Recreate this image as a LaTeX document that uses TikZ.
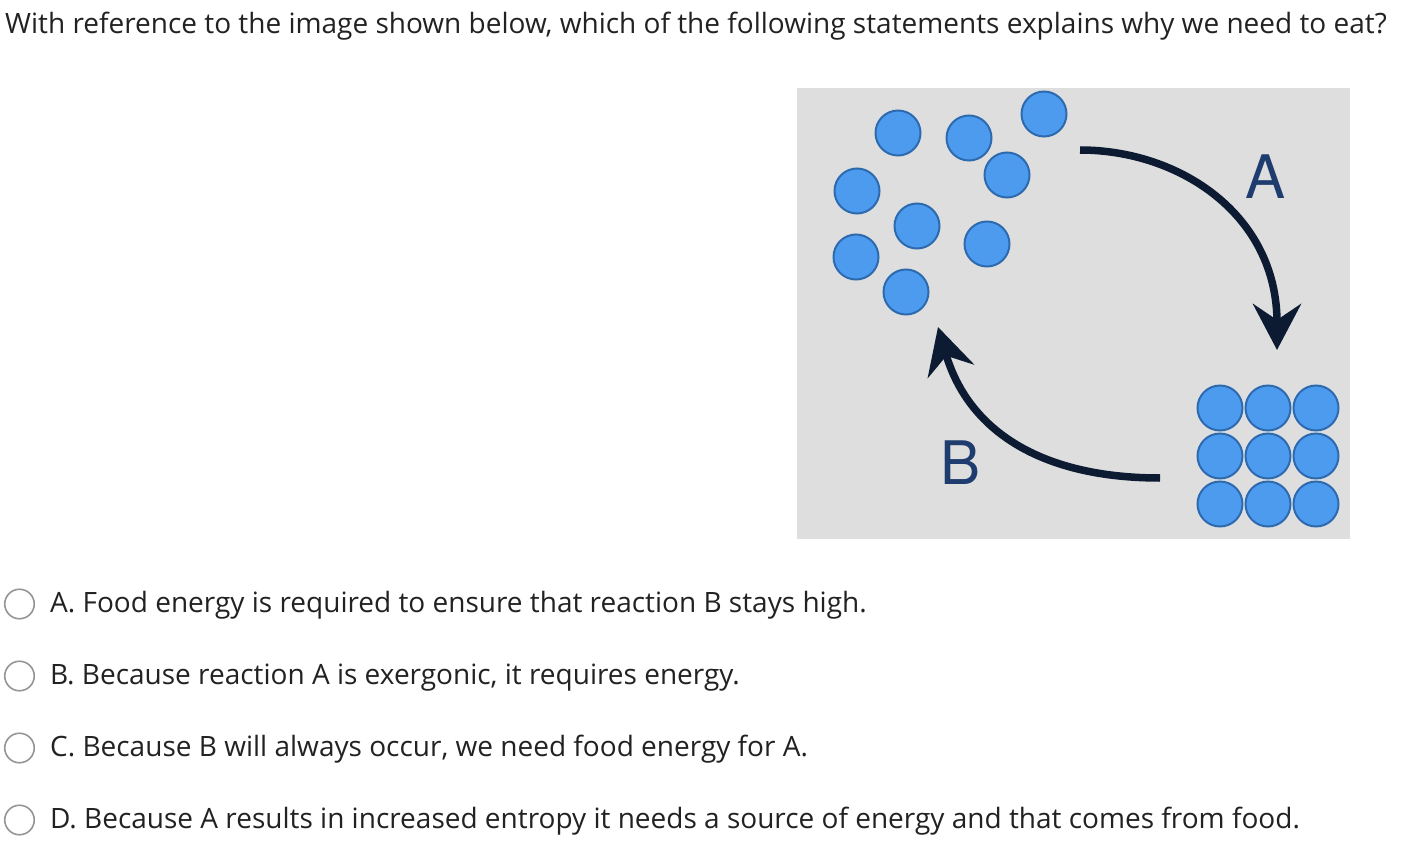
\documentclass[tikz,border=0pt]{standalone}
\usepackage{fontspec}
\setmainfont{Open Sans}
\newfontfamily\labelfont{TeX Gyre Heros}
\usetikzlibrary{arrows.meta}
\definecolor{qgray}{RGB}{34,34,34}
\definecolor{radiogray}{RGB}{150,150,150}
\definecolor{panelgray}{RGB}{222,222,222}
\definecolor{molblue}{RGB}{76,155,239}
\definecolor{molline}{RGB}{45,106,174}
\definecolor{arrownavy}{RGB}{12,26,50}
\definecolor{labelblue}{RGB}{30,60,110}

\begin{document}
\begin{tikzpicture}[x=1pt,y=-1pt,
  qtext/.style={anchor=base west,inner sep=0pt,text=qgray,font=\fontsize{28}{32}\selectfont},
  radio/.style={circle,draw=radiogray,line width=1.6pt,minimum size=29.5pt,inner sep=0pt},
  molecule/.style={circle,draw=molline,fill=molblue,line width=2pt,minimum size=45pt,inner sep=0pt},
  flow/.style={line width=7.5pt,draw=arrownavy,-{Stealth[length=46pt,width=48pt,inset=16pt]}},
  rxn/.style={text=labelblue,font=\labelfont\fontsize{60}{60}\selectfont,inner sep=0pt}]
  \useasboundingbox (0,0) rectangle (1402,850);
  \fill[white] (0,0) rectangle (1402,850);
  % question
  \node[qtext] (question) at (5,34) {With reference to the image shown below, which of the following statements explains why we need to eat?};
  % panel
  \fill[panelgray] (797,88) rectangle (1350,539);
  \foreach \x/\y [count=\i] in {898/133,969/138,1044/114,1007/175,857/191,917/226,987/244,856/257,906/292}
    \node[molecule] (gas\i) at (\x,\y) {};
  \foreach \c in {0,1,2}
    \foreach \r in {0,1,2}
      \node[molecule] (solid\r\c) at ({1220+48*\c},{408+48*\r}) {};
  \coordinate (aStart) at (1080,150);
  \coordinate (aEnd) at (1277,350);
  \coordinate (bStart) at (1160,478);
  \coordinate (bEnd) at (938,327);
  \draw[flow] (aStart) .. controls (1180,150) and (1277,215) .. (aEnd);
  \draw[flow] (bStart) .. controls (1040,478) and (968,430) .. (bEnd);
  \node[rxn] (labA) at (1265,177) {A};
  \node[rxn] (labB) at (960,463) {B};
  % options
  \foreach \t [count=\i] in {A. Food energy is required to ensure that reaction B stays high.,
      B. Because reaction A is exergonic{,} it requires energy.,
      C. Because B will always occur{,} we need food energy for A.,
      D. Because A results in increased entropy it needs a source of energy and that comes from food.}{
    \node[radio] (radio\i) at (19.5,{604+72*(\i-1)}) {};
    \node[qtext] (option\i) at (50,{612+72*(\i-1)}) {\t};
  }
\end{tikzpicture}
\end{document}
